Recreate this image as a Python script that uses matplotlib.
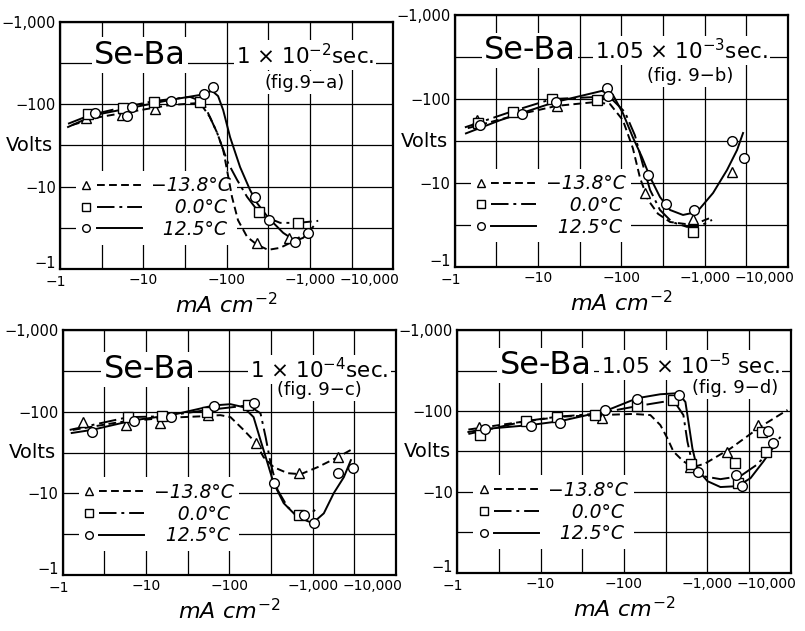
import numpy as np
import matplotlib
import matplotlib.pyplot as plt
from matplotlib.lines import Line2D
from matplotlib.legend_handler import HandlerBase
from matplotlib.transforms import ScaledTranslation

matplotlib.rc('font', family='DejaVu Sans', size=11)

# current density (mA cm^-2, magnitude) and voltage (V, magnitude); all values are negative

# ---- fig 9-a : 1 x 10^-2 sec
a_tri_x = [2.05, 5.55, 13.8, 232, 563]
a_tri_y = [68, 74, 88, 2.07, 2.38]
a_sq_x = [2.17, 5.7, 13.5, 48, 246, 722]
a_sq_y = [76, 90, 107, 107, 4.9, 3.6]
a_ci_x = [2.63, 6.38, 7.33, 21.5, 53.7, 68.9, 220, 324, 665, 953]
a_ci_y = [78.6, 72.3, 93, 110, 134, 163, 7.5, 3.94, 2.13, 2.74]

a_tri_cx = [1.39, 3.0, 6.9, 21, 48, 63, 77, 91, 101, 116, 137, 176, 232, 315, 440, 579, 763, 953]
a_tri_cy = [56, 70, 81, 98, 104, 70, 45, 28, 16, 7.5, 3.9, 2.45, 1.96, 1.70, 1.80, 2.07, 2.45, 2.9]
a_sq_cx = [1.25, 2.3, 6.0, 13.8, 36.5, 52, 63, 77, 91, 104, 134, 176, 232, 306, 440, 722, 1257]
a_sq_cy = [58, 74, 93, 110, 123, 107, 70, 45, 28, 19.4, 12, 7.5, 5.2, 4.2, 3.62, 3.62, 3.83]
a_ci_cx = [1.25, 2.6, 6.9, 21, 48, 67, 79, 91, 110, 145, 191, 232, 315, 477, 665, 830, 1090]
a_ci_cy = [53, 74, 90, 113, 130, 146, 126, 85, 40, 17.3, 9.1, 6.3, 4.2, 2.74, 2.19, 2.38, 3.24]

# ---- fig 9-b : 1.05 x 10^-3 sec
b_tri_x = [1.84, 16.8, 191, 722, 2125]
b_tri_y = [56, 83, 7.6, 3.73, 13.5]
b_sq_x = [1.89, 5.0, 14.6, 51, 722]
b_sq_y = [52, 70, 100, 97, 2.61]
b_ci_x = [2.0, 6.4, 16.3, 67, 69, 208, 343, 743, 2125, 2960]
b_ci_y = [49, 66, 92, 135, 109, 12.5, 5.6, 4.77, 31.6, 19.8]

b_tri_cx = [1.43, 6.0, 16.8, 48, 73, 104, 137, 167, 208, 274, 383, 579, 877, 1156]
b_tri_cy = [45, 66, 83, 92, 87, 56, 26, 11.5, 6.3, 4.3, 3.43, 3.25, 3.43, 3.83]
b_sq_cx = [1.32, 5.0, 14.6, 51, 79, 110, 145, 181, 220, 290, 404, 612, 877, 1222]
b_sq_cy = [46, 72, 100, 106, 97, 70, 37, 16.4, 8.3, 4.77, 3.43, 3.0, 3.08, 3.63]
b_ci_cx = [1.36, 3.5, 15.9, 36.5, 58, 79, 104, 137, 176, 220, 290, 383, 548, 807, 1257, 1850, 2440, 2880]
b_ci_cy = [39, 56, 92, 112, 125, 112, 68, 35, 20.4, 11.8, 6.8, 4.77, 4.16, 4.52, 7.6, 14.3, 24.7, 39.4]

# ---- fig 9-c : 1 x 10^-4 sec
c_tri_x = [1.74, 5.7, 14.7, 56, 206, 678, 2000]
c_tri_y = [75, 69, 73, 91, 42, 17.7, 27.8]
c_sq_x = [6.1, 15.6, 54, 169, 678]
c_sq_y = [86, 88, 99, 120, 5.4]
c_ci_x = [2.23, 7.2, 20, 66, 195, 339, 780, 1028, 2000, 3030]
c_ci_y = [56, 77, 86, 117, 127, 13.4, 5.4, 4.33, 17.7, 20.4]

c_tri_cx = [1.32, 4.9, 16, 45, 78, 103, 148, 206, 257, 339, 500, 717, 1148, 2000, 3120]
c_tri_cy = [60, 75, 84, 88, 91, 86, 60, 42, 27.8, 21, 17.7, 17.2, 21, 27.8, 35.8]
c_sq_cx = [1.21, 6.1, 15.6, 54, 169, 236, 272, 312, 379, 500, 717, 946, 1181]
c_sq_cy = [60, 86, 88, 105, 120, 96, 49, 23.5, 11, 6.8, 5.1, 5.7, 6.8]
c_ci_cx = [1.28, 2.23, 7.2, 20, 66, 103, 148, 195, 236, 287, 339, 448, 659, 1000, 1358, 1790, 2360, 2870]
c_ci_cy = [55, 60, 79, 91, 120, 124, 114, 86, 45, 23.5, 13.4, 7.6, 5.1, 4.33, 5.7, 10.1, 15.8, 25.6]

# ---- fig 9-d : 1.05 x 10^-5 sec
d_tri_x = [1.84, 54, 630, 1750, 4020]
d_tri_y = [64, 82, 20.2, 30.8, 67]
d_sq_x = [1.89, 6.6, 15.9, 45.5, 145, 393, 647, 2185, 2370, 4610, 5150]
d_sq_y = [51, 75, 85, 89, 115, 136, 22, 22.6, 12.9, 55, 31.6]
d_ci_x = [2.17, 7.7, 17.3, 60, 145, 464, 785, 2245, 2650, 5440, 6080]
d_ci_y = [60, 66, 71, 103, 140, 157, 17.5, 16.1, 11.8, 57, 40.7]

d_tri_cx = [1.36, 5.7, 17.3, 52, 130, 208, 274, 333, 393, 518, 684, 953, 1900, 4360, 9200]
d_tri_cy = [59, 73, 85, 89, 92, 89, 67, 46, 31.6, 23.9, 20.2, 22.6, 34.4, 64, 103]
d_sq_cx = [1.36, 6.6, 15.9, 45.5, 145, 393, 518, 579, 665, 877, 1443, 2505, 4020, 5750, 7590]
d_sq_cy = [52, 75, 85, 92, 115, 136, 89, 41.9, 22, 15.7, 14.4, 15.7, 22, 33.4, 48]
d_ci_cx = [1.36, 2.17, 7.5, 17.3, 60, 145, 274, 452, 548, 596, 665, 763, 1007, 1443, 2310, 3310, 4740, 6980]
d_ci_cy = [55, 60, 67, 75, 100, 144, 161, 166, 129, 73, 34.4, 19, 13.6, 11.5, 11.8, 14.8, 23.9, 41.9]

temps = ['\u221213.8\u00b0C', '\u2007\u20070.0\u00b0C', '\u200712.5\u00b0C']
x_ticks = [1, 10, 100, 1000, 10000]
x_labels = ['\u22121', '\u221210', '\u2212100', '\u22121,000', '\u221210,000']
y_ticks = [1, 10, 100, 1000]
y_labels = ['\u22121', '\u221210', '\u2212100', '\u22121,000']

markers = ['^', 's', 'o']
styles = [(0, (4, 2.2)), (0, (9, 2.5, 1.5, 2.5)), '-']

panels = [
    # rect, duration text, fig tag, text positions (SeBa x, sec x, fig x, y1, y2)
    ([0.0745, 0.574, 0.414, 0.391], r'1 $\times$ 10$^{-2}$sec.', '(fig.9\u2212a)', (0.24, 0.735, 0.735, 0.866, 0.755),
     [(a_tri_x, a_tri_y), (a_sq_x, a_sq_y), (a_ci_x, a_ci_y)],
     [(a_tri_cx, a_tri_cy), (a_sq_cx, a_sq_cy), (a_ci_cx, a_ci_cy)]),
    ([0.565, 0.577, 0.414, 0.399], r'1.05 $\times$ 10$^{-3}$sec.', '(fig. 9\u2212b)', (0.225, 0.68, 0.705, 0.86, 0.76),
     [(b_tri_x, b_tri_y), (b_sq_x, b_sq_y), (b_ci_x, b_ci_y)],
     [(b_tri_cx, b_tri_cy), (b_sq_cx, b_sq_cy), (b_ci_cx, b_ci_cy)]),
    ([0.078, 0.0887, 0.414, 0.388], r'1 $\times$ 10$^{-4}$sec.', '(fig. 9\u2212c)', (0.26, 0.77, 0.77, 0.84, 0.755),
     [(c_tri_x, c_tri_y), (c_sq_x, c_sq_y), (c_ci_x, c_ci_y)],
     [(c_tri_cx, c_tri_cy), (c_sq_cx, c_sq_cy), (c_ci_cx, c_ci_cy)]),
    ([0.568, 0.092, 0.414, 0.385], r'1.05 $\times$ 10$^{-5}$ sec.', '(fig. 9\u2212d)', (0.265, 0.70, 0.835, 0.855, 0.76),
     [(d_tri_x, d_tri_y), (d_sq_x, d_sq_y), (d_ci_x, d_ci_y)],
     [(d_tri_cx, d_tri_cy), (d_sq_cx, d_sq_cy), (d_ci_cx, d_ci_cy)]),
]


class MarkerThenLine(HandlerBase):
    # legend key: open marker on the left, then a short stroke in the curve's style
    def create_artists(self, legend, orig_handle, xdescent, ydescent, width, height,
                       fontsize, trans):
        y = height / 2 - ydescent
        x0 = -xdescent
        mk = Line2D([x0 + 0.08 * width], [y], linestyle='none',
                    marker=orig_handle.get_marker(), ms=5.5, mfc='white',
                    mec='black', mew=1.0, transform=trans)
        ln = Line2D([x0 + 0.25 * width, x0 + width], [y, y], transform=trans)
        ln.update_from(orig_handle)
        ln.set_marker('None')
        ln.set_transform(trans)
        return [mk, ln]


def nudge(label, dx_px, dy_px):
    label.set_transform(label.get_transform() +
                        ScaledTranslation(dx_px / 100, dy_px / 100, fig.dpi_scale_trans))


fig = plt.figure(figsize=(8.05, 6.31), dpi=100)

half_decades = [10 ** (k + 0.5) for k in range(4)]

for rect, dur, tag, pos, pts, curves in panels:
    ax = fig.add_axes(rect)
    ax.set_xscale('log')
    ax.set_yscale('log')
    ax.set_xlim(1, 10000)
    ax.set_ylim(1, 1000)

    ax.set_xticks(x_ticks)
    ax.set_xticklabels(x_labels)
    ax.set_yticks(y_ticks)
    ax.set_yticklabels(y_labels)
    ax.set_xticks(half_decades, minor=True)
    ax.set_yticks(half_decades[:3], minor=True)
    ax.set_xticklabels([], minor=True)
    ax.set_yticklabels([], minor=True)
    ax.tick_params(which='both', direction='in', length=0, labelsize=10.5, pad=3)
    ax.tick_params(axis='x', labelsize=10)
    # keep the corner labels apart and the last x label inside the figure
    xl = ax.get_xticklabels()
    xl[-1].set_horizontalalignment('right')
    nudge(xl[-1], 6, 0)
    nudge(xl[0], -4, -2)
    nudge(ax.get_yticklabels()[0], 0, 7)
    ax.grid(True, which='both', color='black', lw=0.9)
    for s in ax.spines.values():
        s.set_linewidth(1.6)

    handles = []
    for (cx, cy), (px, py), m, ls in zip(curves, pts, markers, styles):
        ax.plot(cx, cy, color='black', lw=1.4, linestyle=ls, zorder=3)
        ax.plot(px, py, linestyle='none', marker=m, ms=7, mfc='white',
                mec='black', mew=1.0, zorder=4)
        handles.append(Line2D([], [], color='black', lw=1.4, linestyle=ls, marker=m))

    leg = ax.legend(handles, temps, loc='lower left', bbox_to_anchor=(0.02, 0.06),
                    handler_map={Line2D: MarkerThenLine()},
                    handlelength=3.2, handletextpad=0.5, labelspacing=0.15,
                    borderpad=0.3, frameon=True, fancybox=False,
                    prop={'style': 'italic', 'size': 13.5})
    leg.get_frame().set_facecolor('white')
    leg.get_frame().set_edgecolor('none')
    leg.get_frame().set_alpha(1)
    leg.set_zorder(2.7)

    box = dict(fc='white', ec='none', pad=1.5)
    ax.text(pos[0], pos[3], 'Se-Ba', transform=ax.transAxes, fontsize=23,
            ha='center', va='center', bbox=box, zorder=6)
    ax.text(pos[1], pos[3], dur, transform=ax.transAxes, fontsize=15.5,
            ha='center', va='center', bbox=box, zorder=6)
    ax.text(pos[2], pos[4], tag, transform=ax.transAxes, fontsize=13,
            ha='center', va='center', bbox=box, zorder=6)

    ax.text(-0.02, 0.5, 'Volts', transform=ax.transAxes, fontsize=14,
            ha='right', va='center')
    ax.set_xlabel(r'$mA\ cm^{-2}$', fontsize=16, labelpad=2)

fig.savefig('out.png', dpi=100)
